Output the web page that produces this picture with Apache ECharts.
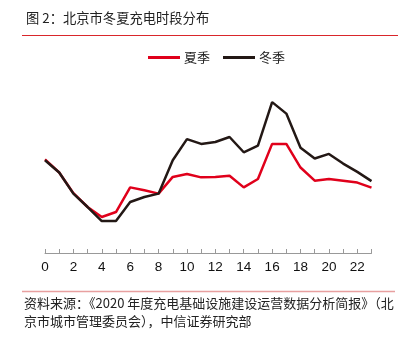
<!DOCTYPE html>
<html><head><meta charset="utf-8">
<script src="https://cdn.jsdelivr.net/npm/echarts@6/dist/echarts.min.js"></script>
<style>html,body{margin:0;padding:0;background:#fff}#c{width:406px;height:337px}</style>
</head><body><div id="c"></div>
<script>
var hours = ['0','1','2','3','4','5','6','7','8','9','10','11','12','13','14','15','16','17','18','19','20','21','22','23'];
var summer = [4.48,3.85,2.86,2.20,1.72,1.96,3.14,3.00,2.84,3.64,3.78,3.62,3.64,3.70,3.14,3.54,5.22,5.22,4.09,3.46,3.54,3.46,3.37,3.13];
var winter = [4.44,3.85,2.84,2.20,1.53,1.53,2.44,2.68,2.84,4.44,5.45,5.22,5.31,5.55,4.82,5.14,7.22,6.67,5.04,4.52,4.74,4.28,3.88,3.44];
var seriesNames = ['夏季','冬季'];
var titleText = '图 2：北京市冬夏充电时段分布';
var sourceLines = ['资料来源：《2020 年度充电基础设施建设运营数据分析简报》（北','京市城市管理委员会），中信证券研究部'];

var font = '"Noto Sans CJK SC", sans-serif';
var chart = echarts.init(document.getElementById('c'), null, {renderer:'canvas'});
chart.setOption({
  animation:false,
  backgroundColor:'#fff',
  title:{text:titleText,left:21,top:6,textStyle:{fontFamily:font,fontSize:13.3,fontWeight:'normal',color:'#222'}},
  legend:{data:seriesNames,left:143,top:46,icon:'rect',itemWidth:32,itemHeight:3,itemGap:13,
    textStyle:{fontFamily:font,fontSize:13,color:'#222',padding:[0,0,0,-1]}},
  grid:{left:45,right:34.5,top:85.8,bottom:84,containLabel:false},
  xAxis:{type:'category',data:hours,boundaryGap:false,
    axisLine:{lineStyle:{color:'#999',width:1}},
    axisTick:{inside:true,length:4,interval:0,lineStyle:{color:'#999'}},
    axisLabel:{interval:1,fontFamily:'Arial, "Liberation Sans", sans-serif',fontSize:13.5,color:'#111',margin:7}},
  yAxis:{type:'value',min:0,max:8,show:false,splitLine:{show:false}},
  graphic:[
    {type:'line',shape:{x1:22,y1:35.5,x2:398,y2:35.5},style:{stroke:'#d9262b',lineWidth:1}},
    {type:'line',shape:{x1:22,y1:291.5,x2:395,y2:291.5},style:{stroke:'#e8a0a0',lineWidth:1.5}},
    {type:'text',left:24,top:297,style:{text:sourceLines[0],fontFamily:font,fontSize:13,fill:'#222'}},
    {type:'text',left:24,top:315,style:{text:sourceLines[1],fontFamily:font,fontSize:13,fill:'#222'}}
  ],
  series:[
    {name:seriesNames[0],type:'line',data:summer,symbol:'none',lineStyle:{color:'#e0001b',width:2.5},itemStyle:{color:'#e0001b'},z:2},
    {name:seriesNames[1],type:'line',data:winter,symbol:'none',lineStyle:{color:'#231815',width:2.5},itemStyle:{color:'#231815'},z:3}
  ]
});
</script></body></html>
